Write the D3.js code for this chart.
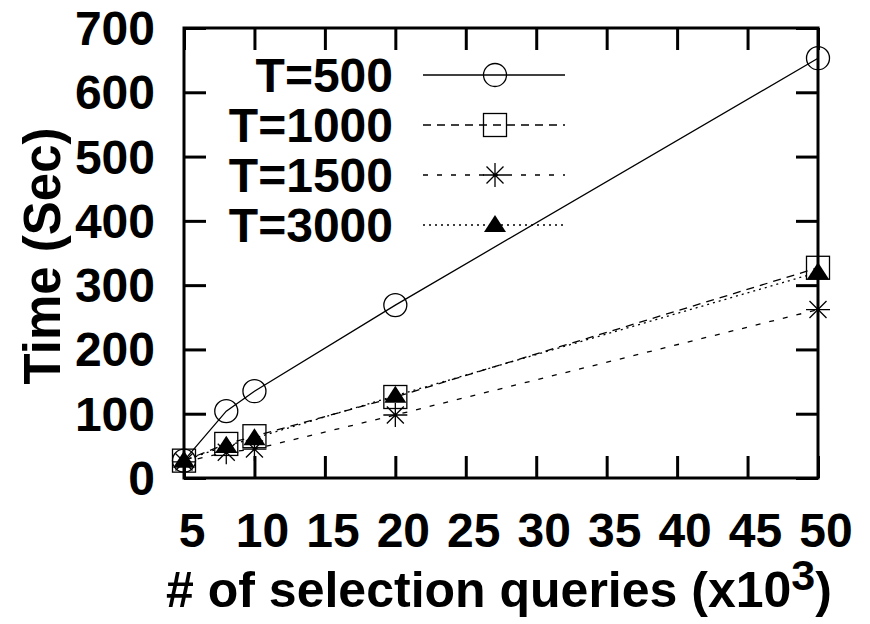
<!DOCTYPE html>
<html>
<head>
<meta charset="utf-8">
<script src="https://cdn.jsdelivr.net/npm/d3@7"></script>
<style>
  body { margin: 0; background: #fff; }
  text { font-family: "Liberation Sans", Arial, Helvetica, sans-serif; font-weight: bold; fill: #000; }
</style>
</head>
<body>
<div id="chart"></div>
<script>
// data (queries in thousands, time in seconds)
let queries = [5, 8, 10, 20, 50];
let seriesNames = ["T=500", "T=1000", "T=1500", "T=3000"];
let t500 = [27, 104, 135, 269, 653];
let t1000 = [27, 53, 65, 126, 327];
let t1500 = [25, 40, 45, 98, 262];
let t3000 = [27, 50, 62, 128, 320];
let xTicks = [5, 10, 15, 20, 25, 30, 35, 40, 45, 50];
let yTicks = [0, 100, 200, 300, 400, 500, 600, 700];

var w = 870,
  h = 624;

// plot frame (window.top is reserved, so use other names)
var plotL = 184,
  plotR = 818,
  plotT = 28,
  plotB = 478;

var x = d3.scaleLinear().domain([5, 50]).range([plotL, plotR]);
var y = d3.scaleLinear().domain([0, 700]).range([plotB, plotT]);

var svg = d3.select("#chart").append("svg").attr("width", w).attr("height", h);

var styles = [
  { dash: null, marker: "circle" },
  { dash: "8,6", marker: "square" },
  { dash: "5,9", marker: "star" },
  { dash: "2,4", marker: "triangle" },
];

var allSeries = [t500, t1000, t1500, t3000];

// ticks, drawn inward on all four sides
var tickLen = 22;
var xAxisB = d3.axisBottom(x).tickValues(xTicks).tickSize(-tickLen).tickFormat("");
var xAxisT = d3.axisTop(x).tickValues(xTicks).tickSize(-tickLen).tickFormat("");
var yAxisL = d3.axisLeft(y).tickValues(yTicks).tickSize(-tickLen).tickFormat("");
var yAxisR = d3.axisRight(y).tickValues(yTicks).tickSize(-tickLen).tickFormat("");

function styleAxis(g) {
  g.select(".domain").remove();
  g.selectAll(".tick line").attr("stroke", "#000").attr("stroke-width", 3);
}

svg.append("g").attr("transform", "translate(0," + plotB + ")").call(xAxisB).call(styleAxis);
svg.append("g").attr("transform", "translate(0," + plotT + ")").call(xAxisT).call(styleAxis);
svg.append("g").attr("transform", "translate(" + plotL + ",0)").call(yAxisL).call(styleAxis);
svg.append("g").attr("transform", "translate(" + plotR + ",0)").call(yAxisR).call(styleAxis);

// tick labels
svg
  .append("g")
  .selectAll("text")
  .data(xTicks)
  .enter()
  .append("text")
  .attr("x", (d) => x(d) + 8)
  .attr("y", 547)
  .attr("text-anchor", "middle")
  .attr("font-size", 48)
  .text((d) => d);

svg
  .append("g")
  .selectAll("text")
  .data(yTicks)
  .enter()
  .append("text")
  .attr("x", 155)
  .attr("y", (d) => y(d) + 17)
  .attr("text-anchor", "end")
  .attr("font-size", 48)
  .text((d) => d);

// frame
svg
  .append("rect")
  .attr("x", plotL)
  .attr("y", plotT)
  .attr("width", plotR - plotL)
  .attr("height", plotB - plotT)
  .attr("fill", "none")
  .attr("stroke", "#000")
  .attr("stroke-width", 3);

// axis titles
svg
  .append("text")
  .attr("transform", "translate(60,256) rotate(-90)")
  .attr("text-anchor", "middle")
  .attr("font-size", 51)
  .text("Time (Sec)");

var xt = svg
  .append("text")
  .attr("x", 499)
  .attr("y", 607)
  .attr("text-anchor", "middle")
  .attr("font-size", 50);
xt.append("tspan").text("# of selection queries (x10");
xt.append("tspan").attr("dy", -17).attr("font-size", 43).text("3");
xt.append("tspan").attr("dy", 17).text(")");

function drawMarker(g, type, cx, cy) {
  if (type === "circle") {
    g.append("circle")
      .attr("cx", cx)
      .attr("cy", cy)
      .attr("r", 11.5)
      .attr("fill", "none")
      .attr("stroke", "#000")
      .attr("stroke-width", 1.3);
  } else if (type === "square") {
    g.append("rect")
      .attr("x", cx - 11.5)
      .attr("y", cy - 11.5)
      .attr("width", 23)
      .attr("height", 23)
      .attr("fill", "none")
      .attr("stroke", "#000")
      .attr("stroke-width", 1.3);
  } else if (type === "star") {
    var r = 12;
    var d = 8.5;
    var p =
      "M" + (cx - r) + "," + cy + "L" + (cx + r) + "," + cy +
      "M" + cx + "," + (cy - r) + "L" + cx + "," + (cy + r) +
      "M" + (cx - d) + "," + (cy - d) + "L" + (cx + d) + "," + (cy + d) +
      "M" + (cx - d) + "," + (cy + d) + "L" + (cx + d) + "," + (cy - d);
    g.append("path").attr("d", p).attr("stroke", "#000").attr("stroke-width", 1.3);
  } else {
    var p2 =
      "M" + cx + "," + (cy - 10) +
      "L" + (cx + 11) + "," + (cy + 7) +
      "L" + (cx - 11) + "," + (cy + 7) + "Z";
    g.append("path").attr("d", p2).attr("fill", "#000");
  }
}

var line = d3
  .line()
  .x((d, i) => x(queries[i]))
  .y((d) => y(d));

allSeries.forEach(function (vals, k) {
  var g = svg.append("g").attr("class", "series");
  g.append("path")
    .datum(vals)
    .attr("d", line)
    .attr("fill", "none")
    .attr("stroke", "#000")
    .attr("stroke-width", 1.3)
    .attr("stroke-dasharray", styles[k].dash);
  vals.forEach(function (v, i) {
    drawMarker(g, styles[k].marker, x(queries[i]), y(v));
  });
});

// legend
var legendY = [75, 125, 175, 225];
var legend = svg.append("g").attr("id", "legend");
seriesNames.forEach(function (name, k) {
  legend
    .append("text")
    .attr("x", 393)
    .attr("y", legendY[k] + 17)
    .attr("text-anchor", "end")
    .attr("font-size", 48)
    .text(name);
  legend
    .append("line")
    .attr("x1", 423)
    .attr("x2", 565)
    .attr("y1", legendY[k])
    .attr("y2", legendY[k])
    .attr("stroke", "#000")
    .attr("stroke-width", 1.3)
    .attr("stroke-dasharray", styles[k].dash);
  drawMarker(legend, styles[k].marker, 495, legendY[k]);
});
</script>
</body>
</html>
